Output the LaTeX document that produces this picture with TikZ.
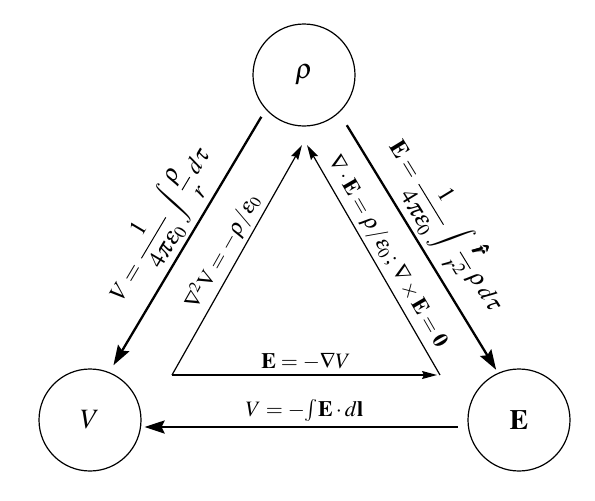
\documentclass[tikz,border=0pt]{standalone}
\usepackage{amsmath}
\usepackage{mathptmx}
\usetikzlibrary{arrows.meta}

\begin{document}
\begin{tikzpicture}[x=0.5pt, y=0.5pt, >={Stealth[length=10pt, width=6.5pt, inset=1.5pt]},
  quantity/.style={draw, circle, line width=0.6pt, minimum size=51pt, inner sep=0pt,
    font=\fontsize{14}{16}\selectfont},
  outer/.style={->, line width=1.15pt},
  inner/.style={-{Stealth[length=7.5pt, width=4pt, inset=1pt]}, line width=0.6pt},
  biglabel/.style={font=\fontsize{12}{14}\selectfont, inner sep=1.5pt},
  smalllabel/.style={font=\fontsize{11}{13}\selectfont, inner sep=2pt}]

  \useasboundingbox (0,0) rectangle (595,500);

  % Nodes
  \node[quantity] (rho) at (304,425) {$\rho$};
  \node[quantity] (V) at (90,80) {$V$};
  \node[quantity] (E) at (519,80) {$\mathbf{E}$};

  % Corners of the inner triangle
  \coordinate (tl) at (172,125);
  \coordinate (tr) at (440,125);
  \coordinate (tl-top) at (302,355);
  \coordinate (tr-top) at (307,355);

  % Edges
  \draw[outer, shorten <=4.25pt, shorten >=4pt] (rho.222) --
    node[biglabel, sloped, above] {$\displaystyle V=\frac{1}{4\pi\varepsilon_0}\int\frac{\rho}{r}\,d\tau$} (V.68);
  \draw[outer, shorten <=7.3pt, shorten >=1.8pt] (rho.313) --
    node[biglabel, sloped, above] {$\displaystyle \mathbf{E}=\frac{1}{4\pi\varepsilon_0}\int\frac{\pmb{\hat{r}}}{r^2}\,\rho\,d\tau$} (E.114);
  \draw[outer, shorten <=4.75pt, shorten >=1.5pt] ([yshift=-3.5pt]E.west) --
    node[smalllabel, above] {$V=-{\textstyle\int}\mathbf{E}\cdot d\mathbf{l}$} ([yshift=-3.5pt]V.east);

  \draw[inner] (tl) -- node[smalllabel, sloped, above] {$\nabla^2\mathrm{V}=-\rho/\varepsilon_0$} (tl-top);
  \draw[inner, shorten >=1.5pt] (tl) -- node[smalllabel, above] {$\mathbf{E}=-\nabla V$} (tr);
  \draw[inner] (tr) -- node[smalllabel, sloped, above] {$\nabla\cdot\mathbf{E}=\rho/\varepsilon_0\,;\,\nabla\times\mathbf{E}=\mathbf{0}$} (tr-top);

\end{tikzpicture}
\end{document}
